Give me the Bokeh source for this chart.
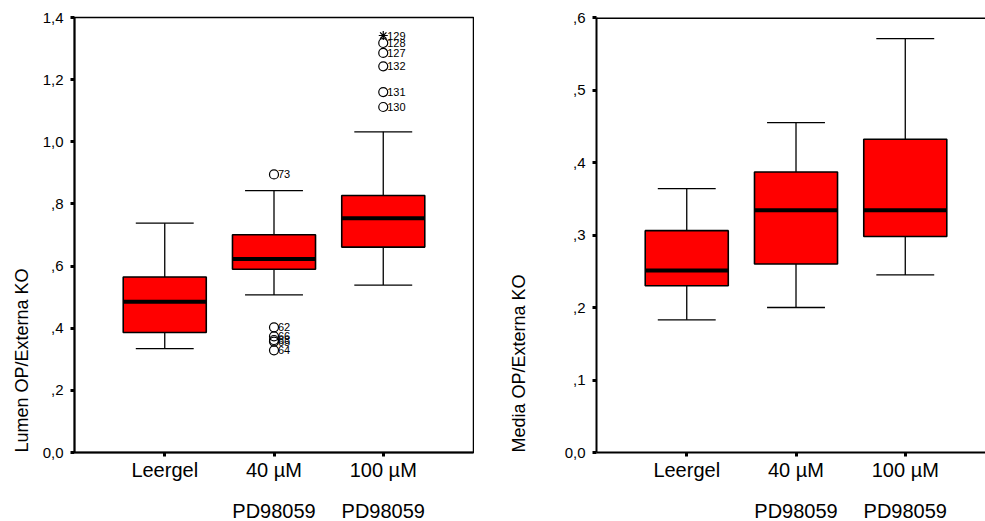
from bokeh.plotting import figure
from bokeh.models import FixedTicker, LinearAxis, Title, Range1d, Span, ColumnDataSource
from bokeh.layouts import row
from bokeh.core.properties import value
from bokeh.embed import file_html
from bokeh.resources import INLINE

# ---------------- data ----------------
categories = ["Leergel", "40 µM", "100 µM"]
categories_line2 = ["", "PD98059", "PD98059"]
cat_pos = [1, 2, 3]

# Left chart: Lumen OP/Externa KO
lumen_lower = [0.334, 0.507, 0.539]
lumen_q1 = [0.386, 0.590, 0.661]
lumen_median = [0.485, 0.623, 0.754]
lumen_q3 = [0.565, 0.701, 0.827]
lumen_upper = [0.738, 0.843, 1.032]

lumen_out_cat = [2, 2, 2, 2, 2, 2, 3, 3, 3, 3, 3]
lumen_out_val = [0.895, 0.403, 0.374, 0.362, 0.357, 0.329, 1.318, 1.286, 1.243, 1.160, 1.112]
lumen_out_id = ["73", "62", "66", "63", "65", "64", "128", "127", "132", "131", "130"]
lumen_ext_cat = [3]
lumen_ext_val = [1.342]
lumen_ext_id = ["129"]

lumen_ticks = [0.0, 0.2, 0.4, 0.6, 0.8, 1.0, 1.2, 1.4]
lumen_tick_labels = ["0,0", ",2", ",4", ",6", ",8", "1,0", "1,2", "1,4"]

# Right chart: Media OP/Externa KO
media_lower = [0.183, 0.200, 0.245]
media_q1 = [0.230, 0.260, 0.298]
media_median = [0.251, 0.334, 0.334]
media_q3 = [0.306, 0.387, 0.432]
media_upper = [0.364, 0.455, 0.571]

media_ticks = [0.0, 0.1, 0.2, 0.3, 0.4, 0.5, 0.6]
media_tick_labels = ["0,0", ",1", ",2", ",3", ",4", ",5", ",6"]

FONT = "Liberation Sans"
BOX_W = 0.76
CAP_W = 0.53


def make_fig(ylabel, ticks, tick_labels, ymax, lower, q1, med, q3, upper,
             frame_w, x_end, border_left, border_right, title_standoff):
    p = figure(frame_width=frame_w, frame_height=435,
               x_range=Range1d(0.174, x_end), y_range=Range1d(0, ymax),
               min_border_left=border_left, min_border_right=border_right,
               min_border_top=17, min_border_bottom=69,
               output_backend="svg", toolbar_location=None,
               background_fill_color="white", border_fill_color="white")
    p.xgrid.visible = False
    p.ygrid.visible = False

    # y axis
    ya = p.yaxis[0]
    ya.ticker = FixedTicker(ticks=ticks)
    ya.major_label_overrides = dict(zip(ticks, tick_labels))
    ya.minor_tick_line_color = None
    ya.major_tick_in = 0
    ya.major_tick_out = 4
    ya.major_tick_line_width = 3
    ya.axis_line_width = 2
    ya.axis_line_color = "black"
    ya.major_label_standoff = 7
    ya.major_label_text_font = FONT
    ya.major_label_text_font_size = "15px"
    ya.major_label_text_color = "black"

    # x axis first line
    xa = p.xaxis[0]
    xa.ticker = FixedTicker(ticks=cat_pos)
    xa.major_label_overrides = dict(zip(cat_pos, categories))
    xa.minor_tick_line_color = None
    xa.major_tick_in = 0
    xa.major_tick_out = 4
    xa.major_tick_line_width = 3
    xa.axis_line_width = 2
    xa.axis_line_color = "black"
    xa.major_label_standoff = 2
    xa.major_label_text_font = FONT
    xa.major_label_text_font_size = "20px"
    xa.major_label_text_color = "black"

    # x axis second line
    xa2 = LinearAxis(ticker=FixedTicker(ticks=cat_pos),
                     major_label_overrides=dict(zip(cat_pos, categories_line2)),
                     axis_line_color=None, major_tick_line_color=None,
                     minor_tick_line_color=None,
                     major_label_standoff=10,
                     major_label_text_font=FONT,
                     major_label_text_font_size="20px",
                     major_label_text_color="black")
    p.add_layout(xa2, "below")

    p.add_layout(Title(text=ylabel, align="left", offset=0, standoff=title_standoff,
                       text_font=FONT, text_font_size="18px",
                       text_font_style="normal", text_color="black"), "left")

    src = ColumnDataSource(dict(
        x=cat_pos, lower=lower, q1=q1, med=med, q3=q3, upper=upper,
        bl=[c - BOX_W / 2 for c in cat_pos], br=[c + BOX_W / 2 for c in cat_pos],
        cl=[c - CAP_W / 2 for c in cat_pos], cr=[c + CAP_W / 2 for c in cat_pos],
    ))
    # whiskers
    p.segment("x", "q3", "x", "upper", source=src, line_color="black", line_width=1.3)
    p.segment("x", "q1", "x", "lower", source=src, line_color="black", line_width=1.3)
    p.segment("cl", "upper", "cr", "upper", source=src, line_color="black", line_width=1.3)
    p.segment("cl", "lower", "cr", "lower", source=src, line_color="black", line_width=1.3)
    # boxes
    p.vbar(x="x", width=BOX_W, bottom="q1", top="q3", source=src,
           fill_color="#FF0000", line_color="black", line_width=1.6)
    # medians
    p.segment("bl", "med", "br", "med", source=src, line_color="black", line_width=4)
    return p


p1 = make_fig("Lumen OP/Externa KO", lumen_ticks, lumen_tick_labels, 1.4,
              lumen_lower, lumen_q1, lumen_median, lumen_q3, lumen_upper,
              399, 3.826, 74, 1, 16)
p1.outline_line_color = "black"
p1.outline_line_width = 1.5

# outliers
osrc = ColumnDataSource(dict(x=lumen_out_cat, y=lumen_out_val, t=lumen_out_id))
p1.scatter("x", "y", source=osrc, marker="circle", size=9,
           fill_color=None, line_color="black", line_width=1.2)
p1.text("x", "y", text="t", source=osrc, x_offset=4, text_baseline="middle",
        text_align="left", text_font=value(FONT), text_font_size="11px",
        text_color="black")
esrc = ColumnDataSource(dict(x=lumen_ext_cat, y=lumen_ext_val, t=lumen_ext_id))
p1.scatter("x", "y", source=esrc, marker="asterisk", size=9,
           line_color="black", line_width=1.2)
p1.text("x", "y", text="t", source=esrc, x_offset=4, text_baseline="middle",
        text_align="left", text_font=value(FONT), text_font_size="11px",
        text_color="black")

p2 = make_fig("Media OP/Externa KO", media_ticks, media_tick_labels, 0.6,
              media_lower, media_q1, media_median, media_q3, media_upper,
              391, 0.174 + 391 / 109.26, 120, 0, 65)
p2.outline_line_color = None
p2.add_layout(Span(location=0.6, dimension="width", line_color="black", line_width=3))

layout = row(p1, p2)
open("out.html", "w").write(file_html(layout, INLINE))
